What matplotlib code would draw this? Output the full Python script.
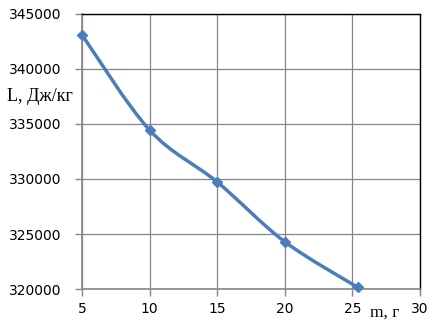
import matplotlib.pyplot as plt
import numpy as np
from matplotlib.path import Path
from matplotlib.patches import PathPatch

m = [5, 10, 15, 20, 25.4]
L = [343100, 334450, 329730, 324300, 320150]
xticks = [5, 10, 15, 20, 25, 30]
yticks = [320000, 325000, 330000, 335000, 340000, 345000]

color = '#4A7EBB'

fig = plt.figure(figsize=(4.42, 3.27), dpi=100)
ax = fig.add_axes([0.1855, 0.1162, 0.7645, 0.8410])

# smoothed line like Excel (Bezier through points)
pts = np.column_stack([m, L]).astype(float)
verts = [tuple(pts[0])]
codes = [Path.MOVETO]
n = len(pts)
for i in range(n - 1):
    p0 = pts[i - 1] if i > 0 else pts[i]
    p1 = pts[i]
    p2 = pts[i + 1]
    p3 = pts[i + 2] if i + 2 < n else pts[i + 1]
    c1 = p1 + (p2 - p0) / 6.0
    c2 = p2 - (p3 - p1) / 6.0
    verts += [tuple(c1), tuple(c2), tuple(p2)]
    codes += [Path.CURVE4] * 3
ax.add_patch(PathPatch(Path(verts, codes), fill=False, edgecolor=color, lw=2.5,
                       capstyle='round', joinstyle='round', zorder=3))
ax.plot(m, L, linestyle='none', marker='D', markersize=5.5, color=color, zorder=4,
        clip_on=False)

ax.set_xlim(5, 30)
ax.set_ylim(320000, 345000)
ax.set_xticks(xticks)
ax.set_yticks(yticks)
ax.grid(True, color='#868686', lw=0.9)
ax.set_axisbelow(True)
for s in ['left', 'bottom']:
    ax.spines[s].set_color('#868686')
    ax.spines[s].set_linewidth(1.2)
for s in ['top', 'right']:
    ax.spines[s].set_color('black')
    ax.spines[s].set_linewidth(1.0)
ax.tick_params(axis='both', colors='#868686', length=5, width=1, labelcolor='black',
               labelsize=10)
ax.tick_params(axis='x', pad=4)
ax.tick_params(axis='y', pad=10)

fig.text(7 / 442, 1 - 97 / 327, 'L, Дж/кг', family='Liberation Serif', fontsize=13,
         va='center', ha='left')
fig.text(370 / 442, 1 - 313 / 327, 'm, г', family='Liberation Serif', fontsize=12.5,
         va='center', ha='left')

plt.savefig('out.png', dpi=100)
plt.close()
